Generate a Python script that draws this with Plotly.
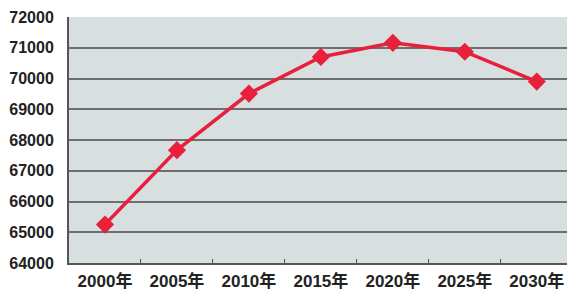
import plotly.graph_objects as go

years = ["2000年", "2005年", "2010年", "2015年", "2020年", "2025年", "2030年"]
values = [65250, 67670, 69510, 70700, 71160, 70870, 69900]
y_ticks = [64000, 65000, 66000, 67000, 68000, 69000, 70000, 71000, 72000]

fig = go.Figure()
fig.add_trace(go.Scatter(
    x=years, y=values, mode="lines+markers",
    line=dict(color="#e8203c", width=3.5),
    marker=dict(symbol="diamond", size=14, color="#e8203c"),
    cliponaxis=False,
))

font = dict(family="Liberation Sans, Noto Sans CJK SC, sans-serif", size=16, color="#222222", weight="bold")
xfont = dict(family="Liberation Sans, Noto Sans CJK SC, sans-serif", size=17, color="#222222", weight="bold")

fig.update_layout(
    width=567, height=293,
    margin=dict(l=69, r=0, t=17, b=30),
    paper_bgcolor="white",
    plot_bgcolor="#d8dfe1",
    showlegend=False,
    font=font,
)
fig.update_xaxes(
    type="category", range=[-0.5, 6.42], automargin=False,
    showgrid=False, showline=True, linecolor="#555555", linewidth=2,
    ticks="inside", ticklen=4, tickcolor="#555555", tickson="boundaries",
    tickfont=xfont, ticklabelstandoff=2,
)
fig.update_yaxes(
    range=[64000, 72000], tickvals=y_ticks, tickformat="d", automargin=False,
    showgrid=True, gridcolor="#6e6e6e", gridwidth=1.5,
    showline=True, linecolor="#555555", linewidth=2,
    ticks="", ticklabelstandoff=10, tickfont=font,
    zeroline=False,
)

fig.write_html("out.html", post_script="document.body.style.margin='0';",
               config={"displayModeBar": False})
